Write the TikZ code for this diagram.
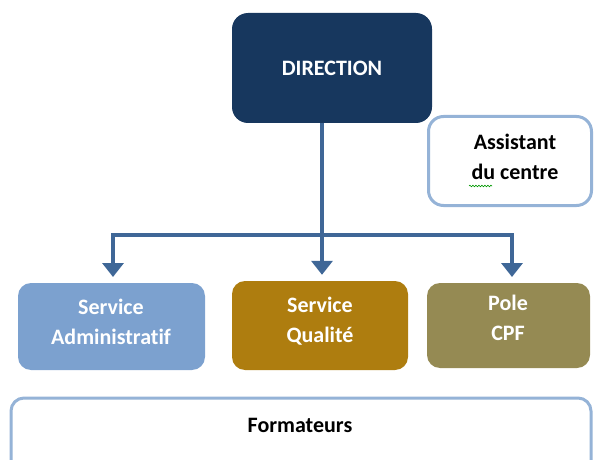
\documentclass[tikz,border=0pt]{standalone}
\usepackage{fontspec}
\setmainfont{Carlito}[Ligatures=NoCommon]
\usetikzlibrary{arrows.meta,decorations.pathmorphing}
\definecolor{navy}{HTML}{17375E}
\definecolor{arrowblue}{HTML}{3F6797}
\definecolor{admblue}{HTML}{7CA1CF}
\definecolor{qualgold}{HTML}{AE7D0F}
\definecolor{poleolive}{HTML}{958A53}
\definecolor{lightborder}{HTML}{95B3D7}
\tikzset{
  box/.style={rounded corners=13pt, inner sep=0pt, align=center,
    font=\fontsize{22}{30}\selectfont\bfseries},
  filledbox/.style={box, draw=none, text=white},
  whitebox/.style={box, draw=lightborder, line width=3pt, fill=white, text=black},
  conn/.style={draw=arrowblue, line width=4pt,
    -{Triangle[width=21pt,length=14pt]}, shorten >=6pt},
  txt/.style={inner sep=0pt, align=center, font=\fontsize{22}{30}\selectfont\bfseries}
}
\begin{document}
\begin{tikzpicture}[x=1pt,y=-1pt]
\useasboundingbox (0,0) rectangle (595,460);
\clip (0,0) rectangle (595,460);
% assistant box (drawn first, direction overlaps it)
\node[whitebox, rounded corners=15pt, minimum width=163pt, minimum height=89pt] (asst) at (510,161) {};
\node[txt] (assttxt) at (515,157) {Assistant\\du centre};
\draw[green!60!black, line width=0.6pt, decorate,
  decoration={snake, amplitude=0.8pt, segment length=3pt}]
  (469,186) -- (492,186);
% direction
\node[filledbox, fill=navy, rounded corners=16pt, minimum width=200pt, minimum height=110pt] (dir) at (332,68) {DIRECTION};
% services
\node[filledbox, fill=admblue, minimum width=187pt, minimum height=87pt] (adm) at (111.5,326.5) {};
\node[txt, text=white] (admtxt) at (111,322) {Service\\Administratif};
\node[filledbox, fill=qualgold, minimum width=176pt, minimum height=89pt] (qual) at (320,325.5) {};
\node[txt, text=white] (qualtxt) at (320,321) {Service\\Qualité};
\node[filledbox, fill=poleolive, minimum width=163pt, minimum height=85pt] (pole) at (508.5,325.5) {};
\node[txt, text=white] (poletxt) at (508,318) {Pole\\CPF};
% formateurs
\node[whitebox, minimum width=580pt, minimum height=80pt] (form) at (301,438) {};
\node[txt] (formtxt) at (300,425) {Formateurs};
% connectors
\coordinate (trunk) at (322,0);
\coordinate (bar) at (0,235);
\draw[conn] (trunk |- dir.south) -- (trunk |- qual.north);
\draw[conn] (trunk |- bar) -| (113,283);
\draw[conn] (trunk |- bar) -| (512,283);
\end{tikzpicture}
\end{document}
